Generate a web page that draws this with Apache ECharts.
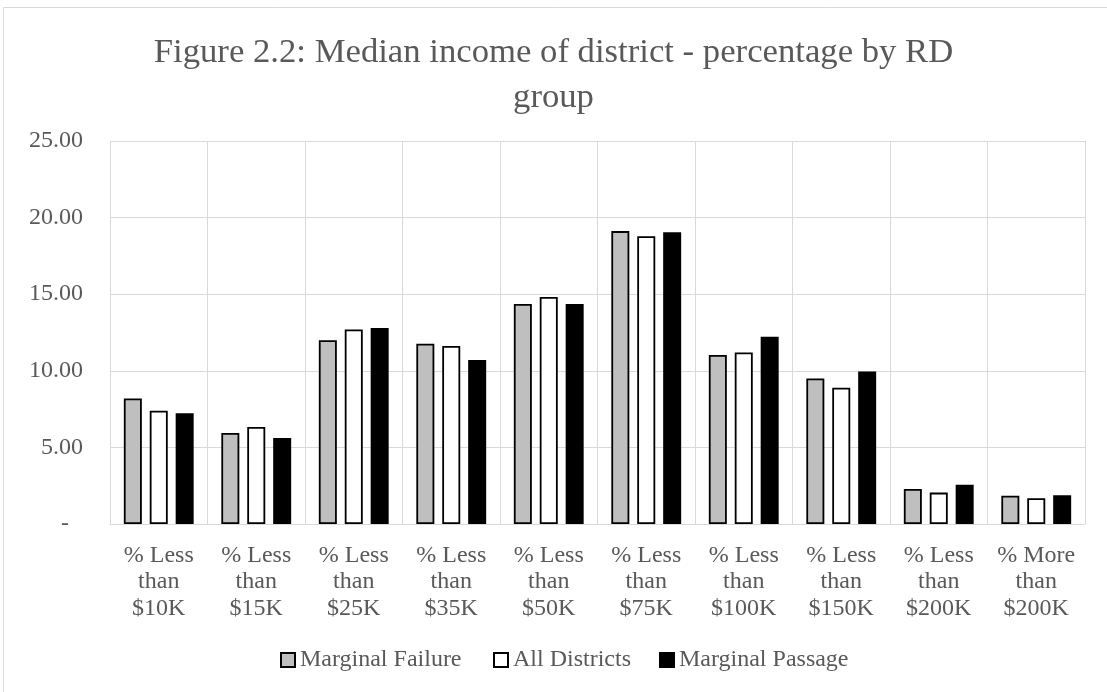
<!DOCTYPE html>
<html><head><meta charset="utf-8">
<script src="https://cdn.jsdelivr.net/npm/echarts@6/dist/echarts.min.js"></script>
<style>html,body{margin:0;padding:0;background:#fff}#c{width:1107px;height:692px}</style>
</head><body><div id="c"></div>
<script>
const categories = ['% Less\nthan\n$10K','% Less\nthan\n$15K','% Less\nthan\n$25K','% Less\nthan\n$35K','% Less\nthan\n$50K','% Less\nthan\n$75K','% Less\nthan\n$100K','% Less\nthan\n$150K','% Less\nthan\n$200K','% More\nthan\n$200K'];
const marginalFailure = [8.2, 5.94, 12.0, 11.77, 14.36, 19.12, 11.03, 9.5, 2.28, 1.85];
const allDistricts   = [7.4, 6.33, 12.7, 11.62, 14.82, 18.78, 11.2, 8.9, 2.05, 1.68];
const marginalPassage= [7.23, 5.61, 12.8, 10.7, 14.36, 19.05, 12.22, 9.95, 2.57, 1.87];
const seriesNames = ['Marginal Failure','All Districts','Marginal Passage'];
const yTicks = [0,5,10,15,20,25];

const font = '"Liberation Serif","Times New Roman",serif';
const chart = echarts.init(document.getElementById('c'));
const mk = (name, data, color) => ({
  name, type:'bar', data, barWidth:18, barGap:'44%',
  itemStyle:{color, borderColor:'#000', borderWidth:1.8},
  emphasis:{disabled:true}
});
const legendLeft = [275, 488, 654];
chart.setOption({
  animation:false,
  graphic:[{type:'rect', shape:{x:3.5,y:7.5,width:1110,height:700}, style:{fill:'none',stroke:'#d9d9d9',lineWidth:1}}],
  title:{text:'Figure 2.2: Median income of district - percentage by RD\ngroup', left:'center', top:25,
    textStyle:{fontFamily:font, fontSize:34.7, fontWeight:'normal', color:'#595959', lineHeight:45}},
  grid:{left:110, right:22, top:141, bottom:168},
  legend:seriesNames.map((n,i)=>({bottom:15, left:legendLeft[i], itemWidth:14, itemHeight:14,
    textStyle:{fontFamily:font, fontSize:24, color:'#595959'},
    icon:'rect', data:[n]})),
  xAxis:{type:'category', data:categories,
    axisLine:{lineStyle:{color:'#d9d9d9', width:1}}, axisTick:{show:false},
    splitLine:{show:true, lineStyle:{color:'#d9d9d9', width:1}},
    axisLabel:{fontFamily:font, fontSize:24, color:'#595959', lineHeight:26.7, margin:18, interval:0}},
  yAxis:{type:'value', min:0, max:25, interval:5,
    axisLine:{show:false}, axisTick:{show:false},
    splitLine:{lineStyle:{color:'#d9d9d9', width:1}},
    axisLabel:{fontFamily:font, fontSize:24, color:'#595959', margin:27,
      formatter:v=> v===0 ? '{d|-}' : v.toFixed(2),
      rich:{d:{fontFamily:font, fontSize:24, color:'#595959', padding:[0,14,0,0]}}}},
  series:[mk(seriesNames[0], marginalFailure, '#bfbfbf'), mk(seriesNames[1], allDistricts, '#ffffff'), mk(seriesNames[2], marginalPassage, '#000000')]
});
</script></body></html>
